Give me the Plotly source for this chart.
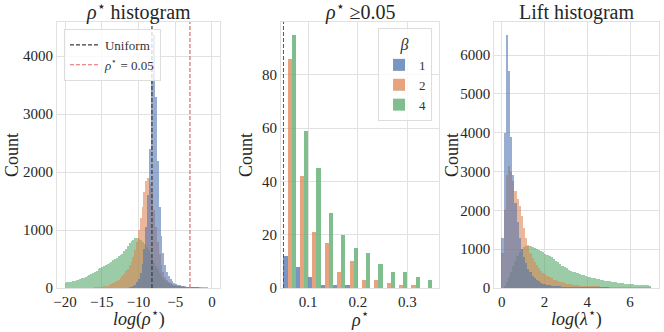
import numpy as np
import plotly.graph_objects as go
from plotly.subplots import make_subplots

# palette (seaborn "deep")
BLUE, ORANGE, GREEN = (76, 114, 176), (221, 132, 82), (85, 168, 104)
BETAS = ["1", "2", "4"]

# ---- left: histogram of log(rho*) ; bins of 0.25 starting at -20
LOGRHO_START, LOGRHO_WIDTH = -20.0, 0.25
logrho_b4 = [88, 95, 102, 110, 117, 125, 133, 142, 152, 165, 178, 190, 203, 218, 235, 255,
             275, 300, 322, 345, 365, 382, 400, 418, 435, 455, 478, 500, 520, 545, 568, 595,
             630, 680, 725, 770, 810, 835, 855, 862, 850, 830, 800, 760, 710, 650, 590, 520,
             450, 385, 320, 265, 215, 170, 135, 105, 82, 65, 50, 40, 32, 26, 21, 17,
             14, 12, 10, 8, 7, 6, 5, 4, 3, 3, 2, 2, 1, 1, 0, 0]
logrho_b2 = [0, 0, 0, 0, 0, 0, 0, 0, 0, 0, 0, 0, 0, 0, 0, 0,
             2, 4, 6, 10, 15, 22, 30, 40, 52, 66, 82, 100, 120, 145, 170, 205,
             240, 285, 330, 390, 450, 540, 650, 800, 1000, 1200, 1400, 1650, 1850, 1900, 1800, 1650,
             1350, 1050, 800, 580, 400, 280, 190, 145, 110, 88, 70, 57, 45, 37, 30, 25,
             20, 16, 12, 9, 6, 4, 3, 2, 1, 1, 0, 0, 0, 0, 0, 0]
logrho_b1 = [0, 0, 0, 0, 0, 0, 0, 0, 0, 0, 0, 0, 0, 0, 0, 0,
             0, 0, 0, 0, 0, 0, 0, 0, 0, 0, 0, 0, 0, 0, 0, 0,
             0, 0, 0, 5, 15, 30, 55, 95, 160, 260, 420, 680, 1050, 1600, 2400, 3600,
             4372, 3300, 2200, 1400, 900, 600, 400, 280, 200, 150, 115, 90, 72, 58, 46, 36,
             28, 22, 16, 12, 8, 5, 3, 2, 1, 0, 0, 0, 0, 0, 0, 0]
UNIFORM_LOGRHO = -8.17
RHO_CUT = 0.05

# ---- middle: rho* >= 0.05, bins of 0.025
rho_bins = [0.05, 0.075, 0.1, 0.125, 0.15, 0.175, 0.2, 0.225, 0.25, 0.275, 0.3, 0.325]
RHO_WIDTH = 0.025
rho_b1 = [12, 8, 4, 1, 1, 1, 0, 0, 0, 0, 0, 0]
rho_b2 = [86, 42, 21, 17, 6, 10, 3, 3, 2, 1, 1, 0]
rho_b4 = [95, 59, 45, 28, 20, 15, 13, 9, 6, 6, 4, 3]

# ---- right: lift histogram, log(lambda*), bins of 0.1 from 0
LIFT_START, LIFT_WIDTH = 0.0, 0.1
lift_b1 = [1300, 4000, 6527, 5600, 3900, 2900, 2200, 1700, 1300, 1000, 800, 640, 500, 400,
           320, 260, 210, 170, 140, 115, 95, 80, 66, 55, 46, 38, 32, 27, 22, 18,
           15, 12, 10, 8, 7, 6, 5, 4, 3, 3, 2, 2, 2, 1, 1, 1, 1, 1, 1, 1,
           0, 0, 0, 0, 0, 0, 0, 0, 0, 0, 0, 0, 0, 0, 0, 0, 0, 0, 0, 0]
lift_b2 = [900, 2000, 2900, 3150, 3000, 2750, 2500, 2300, 2100, 1850, 1550, 1300, 1100, 900,
           780, 680, 590, 510, 450, 395, 350, 310, 275, 245, 218, 195, 175, 158, 142, 128,
           115, 104, 94, 85, 77, 70, 63, 57, 52, 47, 42, 38, 35, 32, 29, 26, 23, 21, 19, 17,
           15, 14, 13, 12, 11, 10, 9, 8, 7, 7, 6, 6, 5, 5, 4, 4, 4, 3, 3, 3]
lift_b4 = [0, 50, 150, 280, 420, 560, 700, 830, 930, 1000, 1050, 1080, 1090, 1080,
           1060, 1040, 1010, 975, 945, 915, 885, 855, 825, 790, 750, 705, 660, 615, 575, 540,
           505, 470, 445, 420, 400, 380, 362, 345, 328, 312, 296, 280, 265, 250, 237, 224,
           212, 200, 189, 178, 168, 159, 150, 142, 135, 128, 121, 115, 109, 103, 98, 93,
           88, 84, 80, 76, 72, 69, 66, 63]


def centers(start, width, n):
    return start + width * (np.arange(n) + 0.5)


def rgba(c, a):
    return "rgba(%d,%d,%d,%s)" % (c[0], c[1], c[2], a)


FONT = "Liberation Serif"
GRID = "#e1e1e1"
TXT = "#262626"
LAYER_ALPHA = 0.58

fig = make_subplots(rows=1, cols=3)

# left panel, drawn green -> orange -> blue so blue sits on top
lx = centers(LOGRHO_START, LOGRHO_WIDTH, len(logrho_b1))
for vals, col in [(logrho_b4, GREEN), (logrho_b2, ORANGE), (logrho_b1, BLUE)]:
    fig.add_trace(go.Bar(x=lx, y=vals, width=LOGRHO_WIDTH * 1.08, opacity=LAYER_ALPHA,
                         marker=dict(color=rgba(col, 1), line_width=0), showlegend=False), row=1, col=1)

fig.add_vline(x=UNIFORM_LOGRHO, line=dict(color="#3a3a3a", dash="4px,2px", width=1.2), row=1, col=1,
              showlegend=True, name="Uniform", legend="legend")
fig.add_vline(x=float(np.log(RHO_CUT)), line=dict(color="#e06a6a", dash="4px,2px", width=1.2), row=1, col=1,
              showlegend=True, name="<i>ρ</i><sup>⋆</sup> = 0.05", legend="legend")

# middle panel, dodged bars
for i, (vals, col, b) in enumerate(zip([rho_b1, rho_b2, rho_b4], [BLUE, ORANGE, GREEN], BETAS)):
    fig.add_trace(go.Bar(x=rho_bins, y=vals, width=RHO_WIDTH / 3, offset=i * RHO_WIDTH / 3,
                         marker=dict(color=rgba(col, 0.75), line_width=0),
                         name=b, legend="legend2", showlegend=True), row=1, col=2)
fig.add_vline(x=RHO_CUT, line=dict(color="#b83030", dash="4px,2px", width=1), row=1, col=2)

# right panel
rx = centers(LIFT_START, LIFT_WIDTH, len(lift_b1))
for vals, col in [(lift_b4, GREEN), (lift_b2, ORANGE), (lift_b1, BLUE)]:
    fig.add_trace(go.Bar(x=rx, y=vals, width=LIFT_WIDTH * 1.08, opacity=LAYER_ALPHA,
                         marker=dict(color=rgba(col, 1), line_width=0), showlegend=False), row=1, col=3)

axis_common = dict(showline=True, mirror=True, linecolor=GRID, linewidth=1, gridcolor=GRID,
                   zeroline=False, ticks="", ticklen=0, automargin=False,
                   tickfont=dict(size=15, color=TXT))

fig.update_layout(
    width=664, height=332, margin=dict(l=57, r=5, t=22, b=44),
    plot_bgcolor="white", paper_bgcolor="white",
    font=dict(family=FONT, color=TXT),
    barmode="overlay", bargap=0,
    xaxis=dict(domain=[0, 0.2708], range=[-21.1, 1.1], tickvals=[-20, -15, -10, -5, 0], **axis_common),
    yaxis=dict(range=[0, 4590], tickvals=[0, 1000, 2000, 3000, 4000], **axis_common),
    xaxis2=dict(domain=[0.3721, 0.6350], range=[0.045, 0.3646], tickvals=[0.1, 0.2, 0.3], **axis_common),
    yaxis2=dict(range=[0, 99.75], tickvals=[0, 20, 40, 60, 80], **axis_common),
    xaxis3=dict(domain=[0.7264, 1.0], range=[-0.35, 7.35], tickvals=[0, 2, 4, 6], **axis_common),
    yaxis3=dict(range=[0, 6853], tickvals=[0, 1000, 2000, 3000, 4000, 5000, 6000], **axis_common),
    legend=dict(x=0.0116, y=0.974, xanchor="left", yanchor="top", bgcolor="rgba(255,255,255,0.8)",
                bordercolor="#dddddd", borderwidth=1, font=dict(size=13, color="#333333"),
                tracegroupgap=0, itemwidth=30),
    legend2=dict(x=0.623, y=0.977, xanchor="right", yanchor="top", bgcolor="rgba(255,255,255,0.8)",
                 bordercolor="#dddddd", borderwidth=1, font=dict(size=13, color="#333333"),
                 title=dict(text="<i>β</i>", side="top center", font=dict(size=16)),
                 tracegroupgap=0, itemwidth=30),
)

# subplot titles
titles = [("<i>ρ</i><sup>⋆</sup> histogram", "x domain"),
          ("<i>ρ</i><sup>⋆</sup> ≥0.05", "x2 domain"),
          ("Lift histogram", "x3 domain")]
for text, xref in titles:
    fig.add_annotation(text=text, xref=xref, yref="paper", x=0.5, y=1.0, yanchor="bottom",
                       showarrow=False, font=dict(size=20, color=TXT), yshift=-4)

# axis titles
xtitles = [("<i>log</i>(<i>ρ</i><sup>⋆</sup>)", "x domain"),
           ("<i>ρ</i><sup>⋆</sup>", "x2 domain"),
           ("<i>log</i>(<i>λ</i><sup>⋆</sup>)", "x3 domain")]
for text, xref in xtitles:
    fig.add_annotation(text=text, xref=xref, yref="paper", x=0.5, y=0, yanchor="middle",
                       yshift=-30, showarrow=False, font=dict(size=18, color=TXT))
for xpix in [12, 246, 452]:
    fig.add_annotation(text="Count", xref="paper", yref="paper", x=(xpix - 57) / 602, y=0.5,
                       xanchor="center", yanchor="middle", textangle=-90, showarrow=False,
                       font=dict(size=18, color=TXT))

# drop the browser's default 8px body margin so the figure sits at the window corner
fig.write_html("out.html", config={"displayModeBar": False},
               post_script="document.body.style.margin='0';")
